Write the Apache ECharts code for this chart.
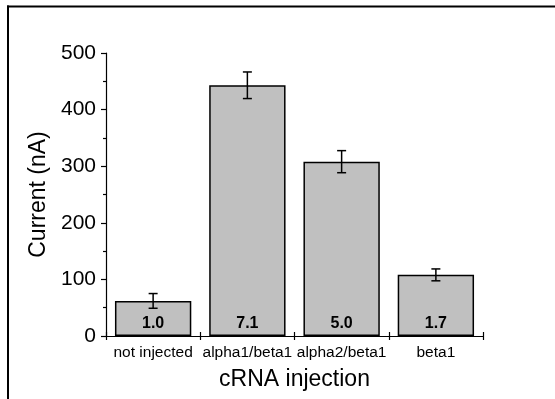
<!DOCTYPE html>
<html><head><meta charset="utf-8">
<script src="https://cdn.jsdelivr.net/npm/echarts@6/dist/echarts.min.js"></script>
<style>html,body{margin:0;padding:0;background:#fff}#c{width:555px;height:399px}</style>
</head><body><div id="c"></div>
<script>
var categories = ["not injected", "alpha1/beta1", "alpha2/beta1", "beta1"];
var currents = [62, 443, 308, 108];
var errors = [13, 23.5, 19.5, 10.5];
var ratios = ["1.0", "7.1", "5.0", "1.7"];
var yTicks = [0, 100, 200, 300, 400, 500];

var FONT = "Liberation Sans, Arial, sans-serif";
var chart = echarts.init(document.getElementById('c'), null, {renderer: 'canvas'});
var errData = currents.map(function (v, i) { return [i, v - errors[i], v + errors[i]]; });

chart.setOption({
  animation: false,
  backgroundColor: '#fff',
  textStyle: {fontFamily: FONT},
  grid: {left: 106, right: 72, top: 53, bottom: 63},
  xAxis: [{
    type: 'category', data: categories,
    name: 'cRNA injection', nameLocation: 'middle', nameGap: 32,
    nameTextStyle: {fontSize: 23, color: '#000', fontFamily: FONT},
    axisLine: {lineStyle: {color: '#000', width: 1.2}},
    axisTick: {show: true, length: 4, lineStyle: {color: '#000', width: 1.2}},
    axisLabel: {fontSize: 15.5, color: '#000', margin: 9, fontFamily: FONT, interval: 0},
    splitLine: {show: false}
  }, {
    type: 'category', data: categories, position: 'bottom',
    axisLine: {show: false},
    axisTick: {show: true, inside: true, length: 4, lineStyle: {color: '#000', width: 1.2}},
    axisLabel: {show: false}
  }],
  yAxis: {
    type: 'value', min: yTicks[0], max: yTicks[yTicks.length - 1], interval: 100,
    name: 'Current (nA)', nameLocation: 'middle', nameGap: 54, nameRotate: 90,
    nameTextStyle: {fontSize: 23, color: '#000', fontFamily: FONT},
    axisLine: {show: true, lineStyle: {color: '#000', width: 1.2}},
    axisTick: {show: true, length: 5, lineStyle: {color: '#000', width: 1.2}},
    minorTick: {show: true, splitNumber: 2, length: 3, lineStyle: {color: '#000', width: 1.2}},
    axisLabel: {fontSize: 21, color: '#000', margin: 10, fontFamily: FONT},
    splitLine: {show: false}
  },
  series: [{
    type: 'bar', data: currents, barCategoryGap: '19%',
    itemStyle: {color: '#c0c0c0', borderColor: '#000', borderWidth: 1.5},
    label: {
      show: true, position: 'insideBottom', distance: 4,
      formatter: function (p) { return ratios[p.dataIndex]; },
      fontSize: 16, fontWeight: 'bold', color: '#000', fontFamily: FONT
    }
  }, {
    type: 'custom', data: errData, z: 10,
    renderItem: function (params, api) {
      var x = api.value(0);
      var lo = api.coord([x, api.value(1)]);
      var hi = api.coord([x, api.value(2)]);
      var hw = 4.5;
      var st = {stroke: '#000', lineWidth: 1.5};
      return {type: 'group', children: [
        {type: 'line', shape: {x1: hi[0], y1: hi[1], x2: lo[0], y2: lo[1]}, style: st},
        {type: 'line', shape: {x1: hi[0] - hw, y1: hi[1], x2: hi[0] + hw, y2: hi[1]}, style: st},
        {type: 'line', shape: {x1: lo[0] - hw, y1: lo[1], x2: lo[0] + hw, y2: lo[1]}, style: st}
      ]};
    }
  }],
  graphic: [
    {type: 'line', shape: {x1: 7, y1: 6.5, x2: 555, y2: 6.5}, style: {stroke: '#000', lineWidth: 2}},
    {type: 'line', shape: {x1: 8, y1: 5.5, x2: 8, y2: 399}, style: {stroke: '#000', lineWidth: 2}}
  ]
});
</script></body></html>
